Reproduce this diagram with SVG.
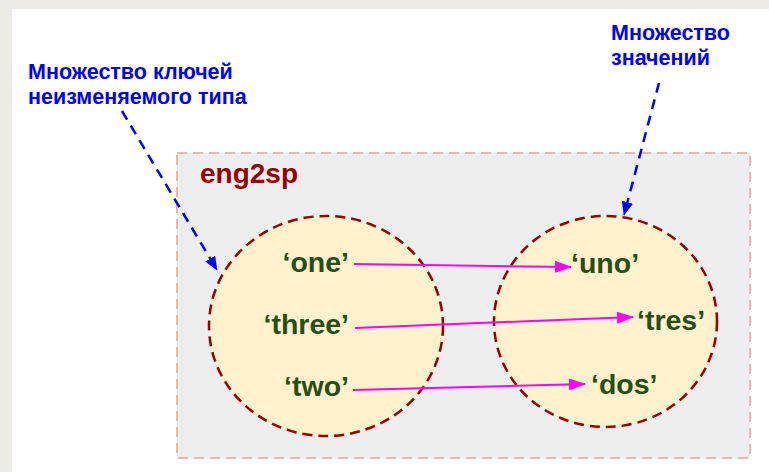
<svg xmlns="http://www.w3.org/2000/svg" width="769" height="472" viewBox="0 0 769 472">
<defs>
<style>
.lbl{font-family:"Liberation Sans",Arial,sans-serif;font-weight:bold;font-size:21.5px;fill:#0000ff}
.item{font-family:"Liberation Sans",Arial,sans-serif;font-weight:bold;font-size:28.5px;fill:#274e13}
.set{fill:#fff2cc;stroke:#990000;stroke-width:2.5;stroke-dasharray:10 6}
.map{stroke:#ff00ff;stroke-width:2;fill:none;marker-end:url(#mh)}
.ptr{stroke:#0000ff;stroke-width:2.5;fill:none;stroke-dasharray:10 7;marker-end:url(#bh)}
</style>
<marker id="mh" markerWidth="8.5" markerHeight="6" refX="8" refY="3" orient="auto" markerUnits="strokeWidth">
<path d="M0,0 L8.5,3 L0,6 z" fill="#ff00ff"/>
</marker>
<marker id="bh" markerWidth="5.6" markerHeight="4.6" refX="5.3" refY="2.3" orient="auto" markerUnits="strokeWidth">
<path d="M0,0 L5.6,2.3 L0,4.6 z" fill="#0000ff"/>
</marker>
</defs>
<rect x="0" y="0" width="769" height="472" fill="#ecebe6"/>
<rect x="12" y="9" width="757" height="463" fill="#ffffff"/>
<g id="dict">
<rect x="177" y="153" width="573" height="305" fill="#eeeeee" stroke="#e6b8af" stroke-width="2" stroke-dasharray="10 6"/>
<text x="200" y="183" font-family="Liberation Sans,Arial,sans-serif" font-weight="bold" font-size="28" fill="#990000">eng2sp</text>
</g>
<g id="keys">
<ellipse class="set" cx="326" cy="326" rx="117" ry="110"/>
<text class="item" x="349" y="272" text-anchor="end">‘one’</text>
<text class="item" x="349" y="334" text-anchor="end">‘three’</text>
<text class="item" x="349" y="396" text-anchor="end">‘two’</text>
</g>
<g id="values">
<ellipse class="set" cx="605.5" cy="321.5" rx="111.5" ry="105.5"/>
<text class="item" x="571" y="273">‘uno’</text>
<text class="item" x="637" y="330">‘tres’</text>
<text class="item" x="591" y="394">‘dos’</text>
</g>
<g id="label-keys">
<text class="lbl" x="28" y="79">Множество ключей</text>
<text class="lbl" x="28" y="104">неизменяемого типа</text>
</g>
<g id="label-values">
<text class="lbl" x="611" y="40">Множество</text>
<text class="lbl" x="611" y="65">значений</text>
</g>
<g id="connectors">
<line class="map" x1="354" y1="264" x2="571" y2="267"/>
<line class="map" x1="355" y1="328" x2="633" y2="317"/>
<line class="map" x1="353" y1="390" x2="585" y2="384"/>
<line class="ptr" x1="122" y1="111" x2="217" y2="270"/>
<line class="ptr" x1="659" y1="83" x2="624" y2="215"/>
</g>
</svg>
